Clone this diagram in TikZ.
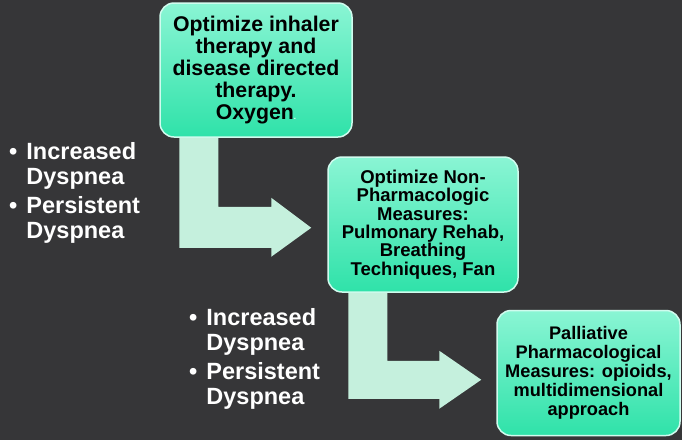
\documentclass[tikz,border=0pt]{standalone}
\usepackage{fontspec}
\setmainfont{Liberation Sans}
\usepackage{tikz}
\usetikzlibrary{calc}
\definecolor{bgdark}{HTML}{363638}
\definecolor{mintlight}{HTML}{8AF5D4}
\definecolor{mintdark}{HTML}{2FE2A9}
\definecolor{arrowmint}{HTML}{C5F0DD}

\tikzset{
  stepbox/.style={rounded corners=14pt, top color=mintlight, bottom color=mintdark,
    draw=white!60!mintlight, line width=1.5pt, align=center, inner sep=0pt},
  bentarrow/.style={fill=arrowmint},
  bullets/.style={text=white, font=\bfseries\fontsize{23.5}{25.5}\selectfont,
    inner sep=0pt, anchor=north west}
}

\begin{document}
\begin{tikzpicture}[x=1pt,y=-1pt]
\fill[bgdark] (0,0) rectangle (682,440);

\node[stepbox, minimum width=192pt, minimum height=134pt,
  font=\bfseries\fontsize{21.3}{22}\selectfont] (b1) at (256,70)
  {Optimize inhaler\\therapy and\\disease directed\\therapy.\\Oxygen{\color{white}\fontsize{8}{8}\selectfont.}};
\node[stepbox, minimum width=190pt, minimum height=135pt,
  font=\bfseries\fontsize{18.5}{18.3}\selectfont] (b2) at (423,224.5)
  {Optimize Non-\\Pharmacologic\\Measures:\\Pulmonary Rehab,\\Breathing\\Techniques, Fan};
\node[stepbox, minimum width=183pt, minimum height=125pt,
  font=\bfseries\fontsize{18.2}{19}\selectfont] (b3) at (588.5,373)
  {Palliative\\Pharmacological\\Measures: opioids,\\multidimensional\\approach};

% bent arrows
\fill[bentarrow] ($(b1.south west)+(20,0)$) -- ++(0,110) -- ++(92,0) -- ++(0,9)
  -- ++(40,-29) -- ++(-40,-30) -- ++(0,9) -- ++(-53,0) -- ++(0,-69) -- cycle;
\fill[bentarrow] ($(b2.south west)+(21,0)$) -- ++(0,106) -- ++(91,0) -- ++(0,10)
  -- ++(42,-29) -- ++(-42,-29) -- ++(0,10) -- ++(-52,0) -- ++(0,-68) -- cycle;

\node[bullets] (l1) at (9,141) {\begin{tabular}{@{}l@{\hspace{9pt}}l@{}}
  •&Increased\\&Dyspnea\\[3pt]•&Persistent\\&Dyspnea\end{tabular}};
\node[bullets] (l2) at (189,307) {\begin{tabular}{@{}l@{\hspace{9pt}}l@{}}
  •&Increased\\&Dyspnea\\[3pt]•&Persistent\\&Dyspnea\end{tabular}};
\end{tikzpicture}
\end{document}
